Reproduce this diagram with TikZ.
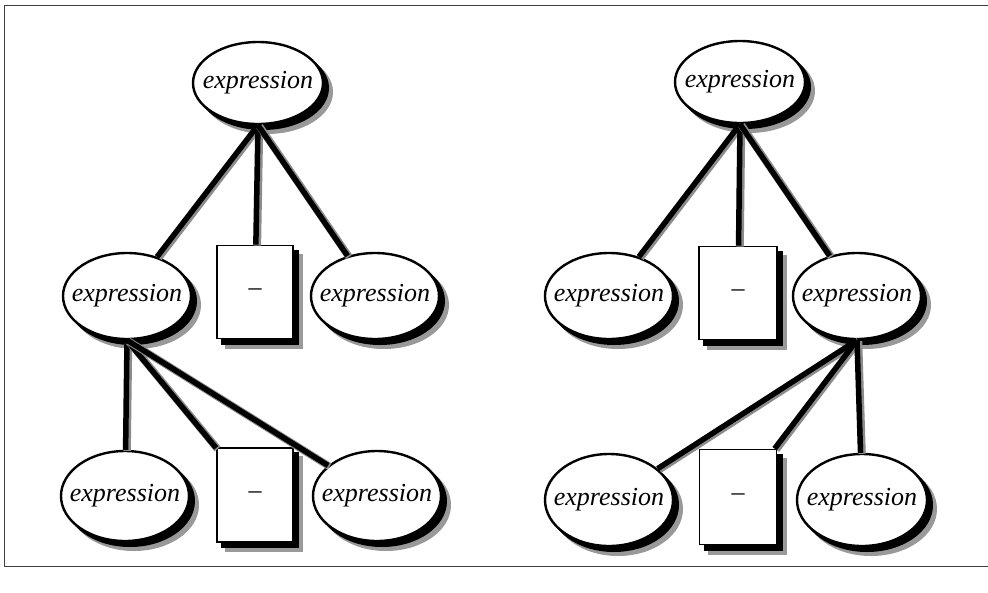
\documentclass[tikz,border=0pt]{standalone}
\usepackage{fontspec}
\setmainfont{Liberation Serif}
\usetikzlibrary{shapes.geometric}
\tikzset{
  shad/.style={
    preaction={fill=black!40, draw=black!40, line width=2pt, transform canvas={shift={(9pt,-9pt)}}},
    preaction={fill=black, draw=black, line width=2pt, transform canvas={shift={(5pt,-5pt)}}}},
  exprnode/.style={shad, draw, ellipse, fill=white, line width=2.4pt, inner sep=0pt,
    minimum width=128pt, minimum height=86pt},
  exprtext/.style={font=\fontsize{26}{30}\selectfont\itshape, inner sep=0pt},
  boxnode/.style={shad, draw, rectangle, fill=white, line width=1.8pt, inner sep=0pt,
    minimum width=76pt, minimum height=93pt, font=\fontsize{26}{30}\selectfont},
  edgeshad/.style={draw=black!45, line width=7.5pt, transform canvas={shift={(1.5pt,-1pt)}}},
  edgeline/.style={draw=black, line width=5.5pt},
  framestyle/.style={draw=black!75, line width=1pt}
}
\begin{document}
\begin{tikzpicture}[x=1pt,y=-1pt]
\useasboundingbox (0,0) rectangle (988,592);
\fill[white] (0,0) rectangle (988,592);
\coordinate (f1) at (988,5);
\coordinate (f2) at (4,5);
\coordinate (f3) at (4,566);
\coordinate (f4) at (988,566);
\draw[framestyle] (f1) -- (f2) -- (f3) -- (f4);

% left tree
\node[exprnode, minimum width=130pt, minimum height=82pt] (t1) at (258,83) {};
\node[exprnode] (l1) at (127,296) {};
\node[boxnode] (b1) at (255,292) {--};
\node[exprnode] (r1) at (375,296) {};
\node[exprnode, minimum height=90pt] (ll) at (125,496) {};
\node[boxnode, minimum height=94pt] (lb) at (255,495) {--};
\node[exprnode, minimum height=90pt] (lr) at (377,496) {};

% right tree
\node[exprnode, minimum width=130pt, minimum height=82pt] (t2) at (740,82) {};
\node[exprnode] (l2) at (609,296) {};
\node[boxnode, minimum width=78pt] (b2) at (738,293) {--};
\node[exprnode] (r2) at (857,296) {};
\node[exprnode, minimum height=92pt] (rl) at (609,500) {};
\node[boxnode, minimum width=77pt, minimum height=95pt] (rb) at (738,497) {--};
\node[exprnode, minimum width=130pt, minimum height=92pt] (rr) at (862,500) {};

% texts
\foreach \n in {t1,l1,r1,ll,lr,t2,l2,r2,rl,rr}{
  \node[exprtext] (\n txt) at (\n) {expression};
}

% edges
\foreach \p/\c in {t1/l1,t1/b1,t1/r1,l1/ll,l1/lb,l1/lr,t2/l2,t2/b2,t2/r2,r2/rl,r2/rb,r2/rr}{
  \draw[edgeshad] (\p.south) -- (\c);
  \draw[edgeline] (\p.south) -- (\c);
}
\end{tikzpicture}
\end{document}
